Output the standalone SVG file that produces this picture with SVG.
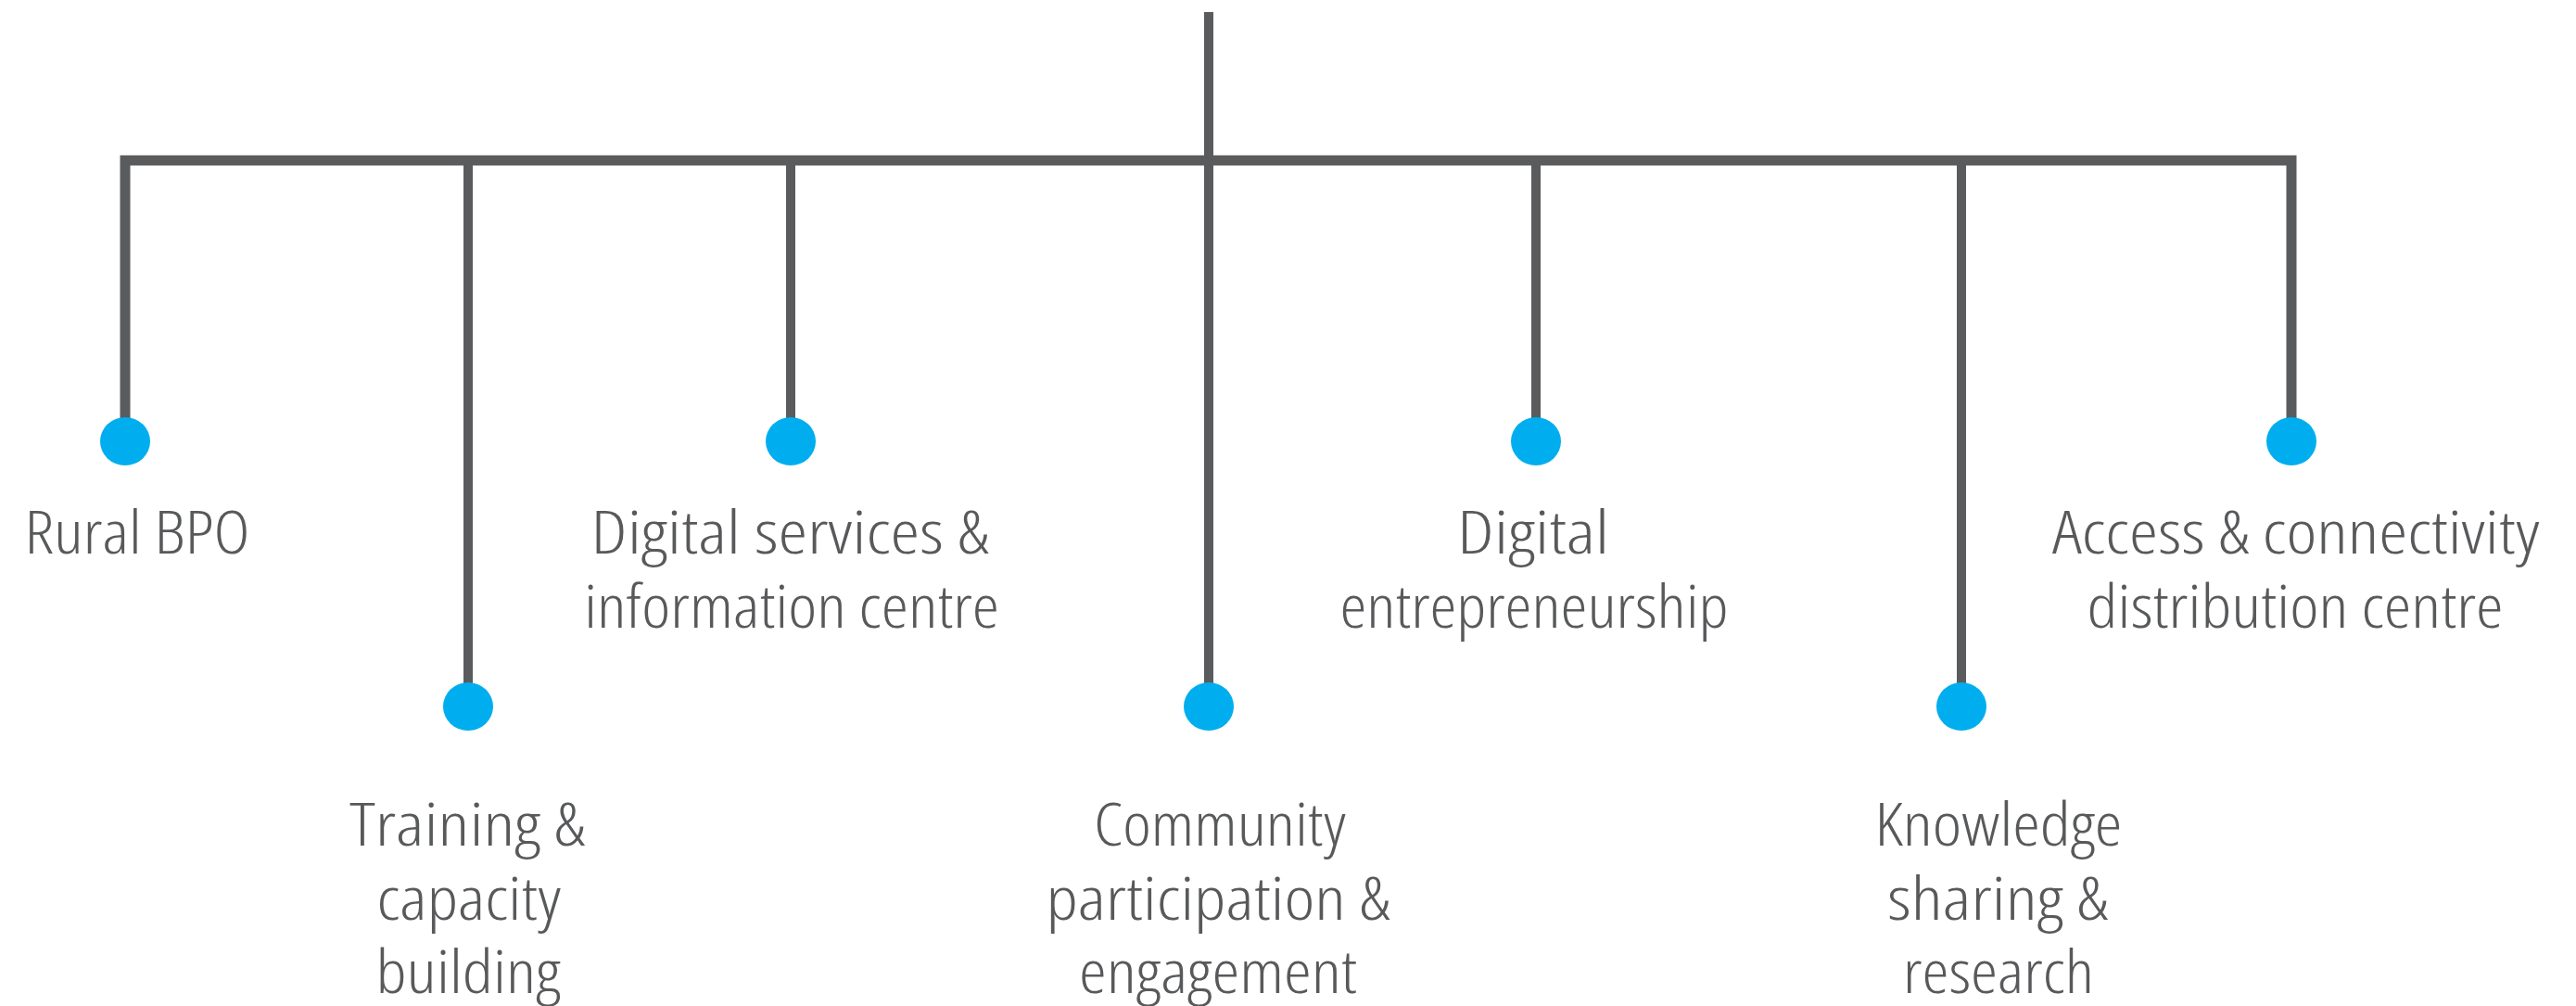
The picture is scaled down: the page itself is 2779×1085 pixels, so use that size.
<svg xmlns="http://www.w3.org/2000/svg" width="2779" height="1085" viewBox="0 0 2779 1085">
<style>
.ln{fill:none;stroke:#5a5b5d;stroke-width:10;stroke-linejoin:miter;stroke-linecap:butt}
.dot{fill:#00aeef}
.lbl{font-family:"Open Sans","Liberation Sans Narrow","Liberation Sans",sans-serif;font-stretch:condensed;font-weight:300;font-size:65px;fill:#58595b;text-anchor:middle}
</style>
<rect width="2779" height="1085" fill="#ffffff"/>
<g id="connectors">
<path class="ln" d="M1304,13 V762"/>
<path class="ln" d="M135,476 V173 H2472 V476" style="stroke-width:11"/>
<path class="ln" d="M505,173 V762"/>
<path class="ln" d="M853,173 V476"/>
<path class="ln" d="M1657,173 V476"/>
<path class="ln" d="M2116,173 V762"/>
</g>
<g id="n1"><ellipse class="dot" cx="135" cy="476" rx="27" ry="26"/><text class="lbl" x="148" y="597" textLength="243" lengthAdjust="spacingAndGlyphs">Rural BPO</text></g>
<g id="n2"><ellipse class="dot" cx="505" cy="762" rx="27" ry="26"/><text class="lbl" x="504" y="912" textLength="254" lengthAdjust="spacingAndGlyphs">Training &amp;</text><text class="lbl" x="506" y="992" textLength="199" lengthAdjust="spacingAndGlyphs">capacity</text><text class="lbl" x="505" y="1071" textLength="199" lengthAdjust="spacingAndGlyphs">building</text></g>
<g id="n3"><ellipse class="dot" cx="853" cy="476" rx="27" ry="26"/><text class="lbl" x="852" y="597" textLength="429" lengthAdjust="spacingAndGlyphs">Digital services &amp;</text><text class="lbl" x="854" y="677" textLength="448" lengthAdjust="spacingAndGlyphs">information centre</text></g>
<g id="n4"><ellipse class="dot" cx="1304" cy="762" rx="27" ry="26"/><text class="lbl" x="1316" y="912" textLength="272" lengthAdjust="spacingAndGlyphs">Community</text><text class="lbl" x="1314" y="992" textLength="371" lengthAdjust="spacingAndGlyphs">participation &amp;</text><text class="lbl" x="1314" y="1071" textLength="300" lengthAdjust="spacingAndGlyphs">engagement</text></g>
<g id="n5"><ellipse class="dot" cx="1657" cy="476" rx="27" ry="26"/><text class="lbl" x="1654" y="597" textLength="164" lengthAdjust="spacingAndGlyphs">Digital</text><text class="lbl" x="1655" y="677" textLength="419" lengthAdjust="spacingAndGlyphs">entrepreneurship</text></g>
<g id="n6"><ellipse class="dot" cx="2116" cy="762" rx="27" ry="26"/><text class="lbl" x="2156" y="912" textLength="267" lengthAdjust="spacingAndGlyphs">Knowledge</text><text class="lbl" x="2155" y="992" textLength="238" lengthAdjust="spacingAndGlyphs">sharing &amp;</text><text class="lbl" x="2156" y="1071" textLength="206" lengthAdjust="spacingAndGlyphs">research</text></g>
<g id="n7"><ellipse class="dot" cx="2472" cy="476" rx="27" ry="26"/><text class="lbl" x="2477" y="597" textLength="526" lengthAdjust="spacingAndGlyphs">Access &amp; connectivity</text><text class="lbl" x="2476" y="677" textLength="449" lengthAdjust="spacingAndGlyphs">distribution centre</text></g>
</svg>
